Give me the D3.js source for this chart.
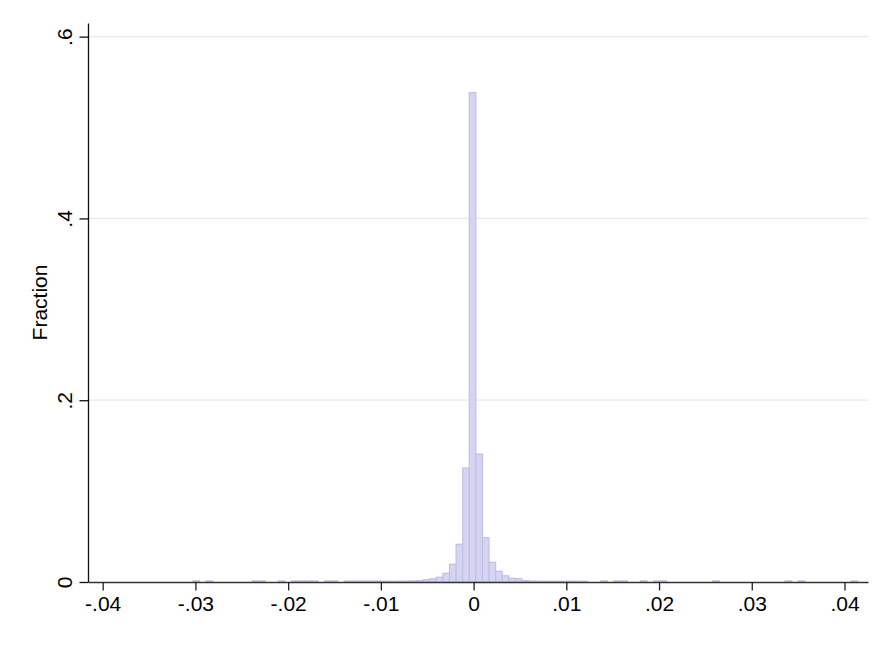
<!DOCTYPE html>
<html>
<head>
<meta charset="utf-8">
<script src="https://cdn.jsdelivr.net/npm/d3@7"></script>
<style>
  html, body { margin: 0; padding: 0; background: #ffffff; }
  svg { display: block; }
  text { font-family: "Liberation Sans", Arial, sans-serif; fill: #000; }
</style>
</head>
<body>
<svg id="chart" width="891" height="648"></svg>
<script>
// ---- Data ----
const binWidth = 0.00071;
const binCenters = [
  -0.02991, -0.02849, -0.02353, -0.02282, -0.02069,
  -0.01927, -0.01856, -0.01785, -0.01714, -0.01572, -0.01501,
  -0.01359, -0.01288, -0.01217, -0.01146, -0.01075, -0.01004,
  -0.00933, -0.00862, -0.00791, -0.00720, -0.00650, -0.00579,
  -0.00508, -0.00437, -0.00366, -0.00295, -0.00224, -0.00153, -0.00082,
  -0.00011,
  0.00060, 0.00131, 0.00202, 0.00273, 0.00344, 0.00415, 0.00486, 0.00557,
  0.00628, 0.00699, 0.00770, 0.00841, 0.00912, 0.00983, 0.01054, 0.01124, 0.01195,
  0.01408, 0.01550, 0.01621, 0.01834, 0.01976, 0.02047, 0.02615,
  0.03395, 0.03537, 0.04105
];
const fractions = [
  0.0012, 0.0012, 0.0012, 0.0012, 0.0012,
  0.0012, 0.0012, 0.0012, 0.0012, 0.0012, 0.0012,
  0.0010, 0.0010, 0.0010, 0.0010, 0.0010, 0.0010,
  0.0008, 0.0008, 0.0009, 0.0010, 0.0012, 0.0015,
  0.0025, 0.0035, 0.0053, 0.0096, 0.0195, 0.0415, 0.1254,
  0.5384,
  0.1408, 0.0487, 0.0217, 0.0118, 0.0068, 0.0042, 0.0036, 0.0015,
  0.0010, 0.0008, 0.0008, 0.0008, 0.0008, 0.0008, 0.0008, 0.0008, 0.0008,
  0.0012, 0.0012, 0.0012, 0.0012, 0.0012, 0.0012, 0.0012,
  0.0012, 0.0012, 0.0012
];
const xTicks = [-0.04, -0.03, -0.02, -0.01, 0, 0.01, 0.02, 0.03, 0.04];
const xTickLabels = ["-.04", "-.03", "-.02", "-.01", "0", ".01", ".02", ".03", ".04"];
const yTicks = [0, 0.2, 0.4, 0.6];
const yTickLabels = ["0", ".2", ".4", ".6"];
const yTitle = "Fraction";

// ---- Layout ----
const plotLeft = 88, plotRight = 868, plotTop = 23, plotBottom = 582;
const fontSize = 21;

const svg = d3.select("#chart");

const x = d3.scaleLinear().domain([-0.041585, 0.042534]).range([plotLeft, plotRight]);
const y = d3.scaleLinear().domain([0, 0.615]).range([plotBottom, plotTop]);

// gridlines
svg.append("g")
  .selectAll("line")
  .data(yTicks.filter(d => d > 0))
  .join("line")
  .attr("x1", plotLeft).attr("x2", plotRight)
  .attr("y1", d => y(d)).attr("y2", d => y(d))
  .attr("stroke", "#e4ecee")
  .attr("stroke-width", 1.2);

// bars
const bars = binCenters.map((c, i) => ({ x0: c - binWidth / 2, x1: c + binWidth / 2, v: fractions[i] }));
svg.append("g")
  .selectAll("rect")
  .data(bars)
  .join("rect")
  .attr("x", d => x(d.x0))
  .attr("width", d => x(d.x1) - x(d.x0))
  .attr("y", d => y(d.v))
  .attr("height", d => y(0) - y(d.v))
  .attr("fill", "#d5d5f2")
  .attr("stroke", "#c0c0e6")
  .attr("stroke-width", 1.2);

// x axis
const xAxis = d3.axisBottom(x)
  .tickValues(xTicks)
  .tickFormat((d, i) => xTickLabels[i])
  .tickSizeInner(8.5)
  .tickSizeOuter(0)
  .tickPadding(6);
const gx = svg.append("g").attr("transform", `translate(0,${plotBottom})`).call(xAxis);
gx.select(".domain").attr("stroke", "#333").attr("stroke-width", 1.3);
gx.selectAll(".tick line").attr("stroke", "#222").attr("stroke-width", 1.3);
gx.selectAll(".tick text")
  .style("font-family", '"Liberation Sans", Arial, sans-serif')
  .style("font-size", fontSize + "px")
  .attr("fill", "#000");

// y axis
const yAxis = d3.axisLeft(y)
  .tickValues(yTicks)
  .tickFormat((d, i) => yTickLabels[i])
  .tickSizeInner(8.5)
  .tickSizeOuter(0)
  .tickPadding(0);
const gy = svg.append("g").attr("transform", `translate(${plotLeft},0)`).call(yAxis);
gy.select(".domain").attr("stroke", "#111").attr("stroke-width", 1.3);
gy.selectAll(".tick line").attr("stroke", "#111").attr("stroke-width", 1.3);
gy.selectAll(".tick text")
  .attr("x", null).attr("dy", null)
  .attr("transform", "translate(-16,0) rotate(-90)")
  .attr("text-anchor", "middle")
  .style("font-family", '"Liberation Sans", Arial, sans-serif')
  .style("font-size", fontSize + "px")
  .attr("fill", "#000");

// y title
svg.append("text")
  .attr("transform", `translate(47,${(plotTop + plotBottom) / 2}) rotate(-90)`)
  .attr("text-anchor", "middle")
  .style("font-size", fontSize + "px")
  .text(yTitle);
</script>
</body>
</html>
